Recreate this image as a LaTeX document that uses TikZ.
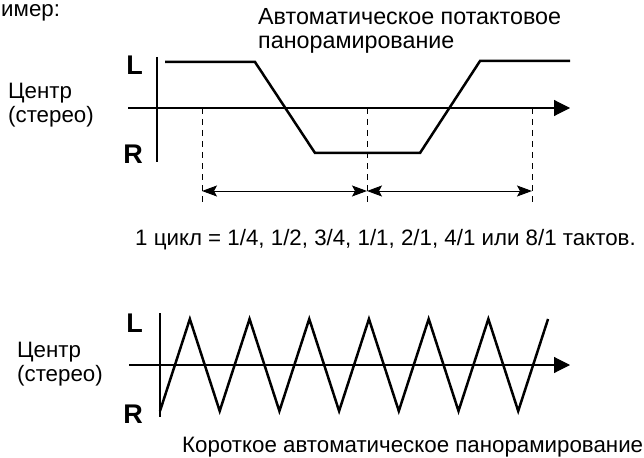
\documentclass[tikz,border=0pt]{standalone}
\usepackage{fontspec}
\setmainfont{Liberation Sans}
\usetikzlibrary{positioning,arrows.meta}
\tikzset{
  txt/.style={inner sep=0pt, font=\fontsize{22.3}{24}\selectfont, align=left},
  bigtxt/.style={txt, font=\fontsize{23.3}{24}\selectfont},
  lrlabel/.style={inner sep=0pt, font=\fontsize{27}{27}\selectfont\bfseries},
  axis/.style={line width=1.1pt, -{Triangle[length=16pt,width=16pt]}},
  vaxis/.style={line width=1.1pt},
  wave/.style={line width=2.5pt, line join=miter},
  guide/.style={line width=0.9pt, dash pattern=on 6pt off 5pt},
  dimarr/.style={line width=1pt, {Stealth[length=15pt,width=11pt,inset=3pt]}-{Stealth[length=15pt,width=11pt,inset=3pt]}}
}
\begin{document}
\begin{tikzpicture}[x=1pt,y=-1pt]
  \useasboundingbox (0,0) rectangle (644,457);

  % Caption cut at the left edge
  \node[txt, anchor=base west] (ex) at (1,17) {имер:};

  % Upper graph: auto pan in steps
  \node[bigtxt, anchor=north west] (title) at (258,8)
        {Автоматическое потактовое\\панорамирование};
  \node[txt, anchor=north west] (ctop) at (8,83) {Центр\\(стерео)};
  \node[lrlabel, anchor=base east] (ltop) at (143,75) {L};
  \node[lrlabel, anchor=base east] (rtop) at (143,164) {R};

  \coordinate (hax0) at (128,108);
  \coordinate (hax1) at (570,108);
  \coordinate (vax0) at (157,57);
  \coordinate (vax1) at (157,162);
  \draw[axis] (hax0) -- (hax1);
  \draw[vaxis] (vax0) -- (vax1);

  % trapezoid curve
  \coordinate (w0) at (165,62);
  \coordinate (w1) at (255,62);
  \coordinate (w2) at (315,153);
  \coordinate (w3) at (420,153);
  \coordinate (w4) at (480,61);
  \coordinate (w5) at (570,61);
  \draw[wave] (w0) -- (w1) -- (w2) -- (w3) -- (w4) -- (w5);

  % cycle marks
  \foreach \n/\x in {ga/202,gb/367,gc/532}{
    \coordinate (\n0) at (\x,108);
    \coordinate (\n1) at (\x,205);
    \coordinate (\n) at (\x,191);
    \draw[guide] (\n0) -- (\n1);
  }
  \draw[dimarr] (ga) -- (gb);
  \draw[dimarr] (gb) -- (gc);

  \node[txt, anchor=base west] (cycle) at (135,245)
        {1 цикл = 1/4, 1/2, 3/4, 1/1, 2/1, 4/1 или 8/1 тактов.};

  % Lower graph: short auto pan
  \node[txt, anchor=north west] (cbot) at (17,342) {Центр\\(стерео)};
  \node[lrlabel, anchor=base east] (lbot) at (143,332) {L};
  \node[lrlabel, anchor=base east] (rbot) at (143,423) {R};

  \coordinate (hbx0) at (129,365);
  \coordinate (hbx1) at (570,365);
  \coordinate (vbx0) at (160,313);
  \coordinate (vbx1) at (160,417);
  \draw[axis] (hbx0) -- (hbx1);
  \draw[vaxis] (vbx0) -- (vbx1);

  % triangle curve
  \draw[wave] (160,411)
    \foreach \i in {1,...,13}{ -- ({160+\i*29.85},{mod(\i,2)==1 ? 319 : 411}) };

  \node[txt, anchor=base west] (short) at (182,452)
        {Короткое автоматическое панорамирование};
\end{tikzpicture}
\end{document}
